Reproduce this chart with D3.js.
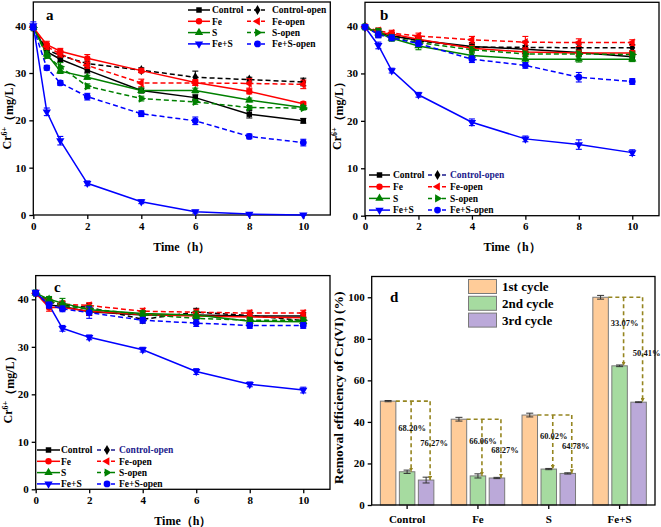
<!DOCTYPE html>
<html><head><meta charset="utf-8">
<script src="https://cdn.jsdelivr.net/npm/d3@7"></script>
<style>
body{margin:0;background:#fff}
text{font-family:"Liberation Serif","Times New Roman",serif;font-weight:bold}
</style>
</head><body>
<svg id="chart" width="661" height="527"></svg>
<script>
// ---------------- DATA ----------------
const times = [0, 0.5, 1, 2, 4, 6, 8, 10];
const seriesNames = ["Control", "Control-open", "Fe", "Fe-open", "S", "S-open", "Fe+S", "Fe+S-open"];
const xTicks = [0, 2, 4, 6, 8, 10];
const yTicksLine = [0, 10, 20, 30, 40];

// panel a
const aControl      = [39.6, 34.5, 32.9, 30.6, 26.3, 24.8, 21.3, 19.9];
const aControlOpen  = [39.6, 34.9, 33.7, 32.0, 30.6, 29.1, 28.6, 28.1];
const aFe           = [39.6, 36.0, 34.6, 33.1, 30.5, 28.0, 26.1, 23.5];
const aFeOpen       = [39.6, 35.6, 34.0, 31.6, 27.9, 27.9, 27.8, 27.6];
const aS            = [39.6, 34.0, 30.4, 29.1, 26.3, 26.3, 24.3, 22.7];
const aSOpen        = [39.6, 33.6, 31.3, 27.2, 24.6, 23.9, 22.7, 22.6];
const aFeS          = [40.0, 21.8, 15.7, 6.7, 2.8, 0.7, 0.2, 0.0];
const aFeSOpen      = [39.6, 31.1, 27.9, 25.0, 21.4, 19.9, 16.6, 15.3];
const aErr = [
  [0.3, 0.6, 0.6, 0.6, 0.5, 0.6, 0.8, 0.5],
  [0.3, 0.5, 0.5, 0.5, 0.5, 1.3, 0.5, 0.8],
  [0.3, 0.7, 0.6, 0.8, 0.4, 0.6, 0.5, 0.4],
  [0.3, 0.6, 0.6, 0.6, 0.8, 0.5, 1.0, 0.9],
  [0.3, 0.6, 0.5, 0.4, 0.5, 0.5, 0.4, 0.4],
  [0.3, 0.5, 0.9, 0.5, 0.5, 0.5, 0.4, 0.4],
  [0.8, 0.8, 0.9, 0.5, 0.4, 0.3, 0.2, 0.1],
  [0.5, 0.5, 0.5, 0.7, 0.6, 0.8, 0.5, 0.7]
];

// panel b
const bControl      = [39.8, 38.4, 37.9, 37.0, 35.7, 35.1, 34.4, 33.5];
const bControlOpen  = [39.8, 38.6, 38.0, 36.9, 35.5, 35.5, 35.4, 35.4];
const bFe           = [39.8, 38.6, 38.3, 37.2, 35.3, 34.5, 34.3, 34.3];
const bFeOpen       = [39.8, 39.0, 38.5, 37.9, 37.1, 36.6, 36.5, 36.5];
const bS            = [39.8, 38.5, 37.4, 35.8, 33.8, 33.0, 33.0, 33.0];
const bSOpen        = [39.8, 38.8, 37.6, 36.5, 35.0, 34.1, 34.1, 34.0];
const bFeS          = [39.8, 35.9, 30.6, 25.5, 19.7, 16.2, 15.0, 13.3];
const bFeSOpen      = [39.8, 38.2, 37.5, 36.3, 33.0, 31.7, 29.2, 28.3];
const bErr = [
  [0.3, 0.8, 0.6, 0.6, 0.8, 0.8, 0.6, 0.6],
  [0.3, 0.8, 0.6, 0.6, 0.7, 1.3, 0.8, 0.7],
  [0.3, 0.6, 0.6, 0.6, 0.6, 0.7, 0.6, 0.5],
  [0.3, 0.6, 0.6, 0.6, 0.7, 1.2, 0.8, 0.6],
  [0.3, 0.8, 0.6, 0.8, 0.7, 0.6, 0.6, 0.5],
  [0.3, 0.7, 0.6, 0.6, 0.7, 0.6, 0.6, 0.5],
  [0.3, 0.7, 0.5, 0.5, 0.7, 0.6, 1.0, 0.6],
  [0.3, 0.7, 0.6, 0.6, 0.7, 0.6, 1.0, 0.6]
];

// panel c
const cControl      = [41.3, 38.8, 38.5, 37.4, 36.7, 36.7, 36.5, 36.5];
const cControlOpen  = [41.3, 39.5, 38.8, 38.3, 35.8, 37.3, 36.6, 35.5];
const cFe           = [41.3, 38.3, 38.3, 37.5, 36.8, 36.5, 36.3, 36.1];
const cFeOpen       = [41.3, 39.6, 39.0, 38.7, 37.5, 37.3, 37.1, 37.1];
const cS            = [41.3, 40.0, 39.2, 37.8, 37.0, 36.7, 35.4, 35.3];
const cSOpen        = [41.3, 39.8, 38.6, 38.0, 36.8, 36.0, 35.6, 35.6];
const cFeS          = [41.5, 38.8, 33.9, 32.0, 29.4, 24.8, 22.1, 20.9];
const cFeSOpen      = [41.3, 38.8, 38.0, 37.2, 35.6, 35.0, 34.5, 34.5];
const cErr = [
  [0.3, 0.7, 0.8, 0.8, 0.8, 0.8, 0.7, 0.7],
  [0.3, 0.7, 0.8, 0.8, 0.8, 0.8, 0.7, 0.7],
  [0.3, 0.8, 0.6, 0.8, 0.8, 0.7, 0.7, 0.8],
  [0.3, 0.6, 0.6, 0.6, 0.6, 0.6, 0.6, 0.6],
  [0.3, 0.6, 1.0, 0.8, 0.6, 0.8, 0.6, 0.6],
  [0.3, 0.6, 0.6, 0.6, 0.6, 0.6, 0.6, 0.6],
  [0.3, 0.6, 0.6, 0.5, 0.5, 0.6, 0.5, 0.6],
  [0.3, 0.6, 0.6, 1.2, 0.6, 0.7, 0.6, 0.6]
];

// panel d
const barCategories = ["Control", "Fe", "S", "Fe+S"];
const cycleNames = ["1st cycle", "2nd cycle", "3rd cycle"];
const cycle1 = [50.0, 41.3, 43.3, 100.0];
const cycle2 = [16.0, 14.0, 17.3, 67.0];
const cycle3 = [12.0, 13.0, 15.2, 49.5];
const cycle1Err = [0.3, 0.9, 0.9, 0.9];
const cycle2Err = [0.8, 1.0, 0.3, 0.4];
const cycle3Err = [1.4, 0.3, 0.3, 0.2];
const drop2Labels = ["68.20%", "66.06%", "60.02%", "33.07%"];
const drop3Labels = ["76.27%", "68.27%", "64.78%", "50.41%"];
const yTicksBar = [0, 20, 40, 60, 80, 100];

// ---------------- STYLES ----------------
const seriesColors = ["#000000", "#000000", "#ff0000", "#ff0000", "#008000", "#008000", "#0000ff", "#0000ff"];
const seriesDashed = [false, true, false, true, false, true, false, true];
const seriesSymbols = [
  {t: d3.symbolSquare, r: 0, s: 30}, {t: d3.symbolDiamond, r: 0, s: 30},
  {t: d3.symbolCircle, r: 0, s: 32}, {t: d3.symbolTriangle, r: -90, s: 30},
  {t: d3.symbolTriangle, r: 0, s: 30}, {t: d3.symbolTriangle, r: 90, s: 30},
  {t: d3.symbolTriangle, r: 180, s: 30}, {t: d3.symbolCircle, r: 0, s: 36}
];
const cycleColors = ["#ffcc99", "#a6dba0", "#bba9d9"];
const olive = "#958520";

const svg = d3.select("#chart");
const FS = "'Liberation Serif', 'Times New Roman', serif";

function styleAxis(a) {
  a.select(".domain").remove();
  a.selectAll("line").attr("stroke", "#000").attr("stroke-width", 1.3);
  a.selectAll("text").attr("fill", "#000").style("font-family", FS).style("font-weight", "bold").style("font-size", "11px");
}
function frame(g, xr, yr) {
  g.append("rect").attr("x", xr[0]).attr("y", yr[1]).attr("width", xr[1] - xr[0]).attr("height", yr[0] - yr[1])
    .attr("fill", "none").attr("stroke", "#000").attr("stroke-width", 1.3);
}

function drawSym(g, i, cx, cy) {
  const s = seriesSymbols[i];
  g.append("path").attr("d", d3.symbol().type(s.t).size(s.s)())
    .attr("transform", `translate(${cx},${cy}) rotate(${s.r})`)
    .attr("fill", seriesColors[i]);
}

function linePanel(opt) {
  const g = svg.append("g");
  const x = d3.scaleLinear().domain([0, 11]).range(opt.xr);
  const y = d3.scaleLinear().domain([0, 45]).range(opt.yr);
  styleAxis(g.append("g").attr("transform", `translate(0,${opt.yr[0]})`)
    .call(d3.axisBottom(x).tickValues(xTicks).tickSize(4).tickPadding(3).tickFormat(d3.format("d"))));
  styleAxis(g.append("g").attr("transform", `translate(${opt.xr[0]},0)`)
    .call(d3.axisLeft(y).tickValues(yTicksLine).tickSize(4).tickPadding(3).tickFormat(d3.format("d"))));
  frame(g, opt.xr, opt.yr);
  const line = d3.line().x((d, k) => x(times[k])).y(d => y(d));
  opt.series.forEach((vals, i) => {
    g.append("path").datum(vals).attr("d", line).attr("fill", "none")
      .attr("stroke", seriesColors[i]).attr("stroke-width", 1.5)
      .attr("stroke-dasharray", seriesDashed[i] ? "5,3" : null);
  });
  opt.series.forEach((vals, i) => {
    vals.forEach((v, k) => {
      const e = opt.err[i][k], cx = x(times[k]);
      const eg = g.append("g").attr("stroke", seriesColors[i]).attr("stroke-width", 1.1);
      eg.append("line").attr("x1", cx).attr("x2", cx).attr("y1", y(v - e)).attr("y2", y(v + e));
      eg.append("line").attr("x1", cx - 3).attr("x2", cx + 3).attr("y1", y(v - e)).attr("y2", y(v - e));
      eg.append("line").attr("x1", cx - 3).attr("x2", cx + 3).attr("y1", y(v + e)).attr("y2", y(v + e));
      drawSym(g, i, cx, y(v));
    });
  });
  // legend
  const L = opt.legend;
  seriesNames.forEach((name, i) => {
    const col = i % 2, row = Math.floor(i / 2);
    const x0 = L.lx[col], x1 = L.lx2[col], yy = L.y0 + row * L.dy;
    const navy = (col === 1 && row === 0 && opt.navy);
    g.append("line").attr("x1", x0).attr("x2", x1).attr("y1", yy).attr("y2", yy)
      .attr("stroke", navy ? "#1a1a8c" : seriesColors[i]).attr("stroke-width", 1.5)
      .attr("stroke-dasharray", seriesDashed[i] ? "4,3" : null);
    drawSym(g, i, (x0 + x1) / 2, yy);
    g.append("text").attr("x", L.tx[col]).attr("y", yy).attr("dy", "0.35em")
      .attr("fill", navy ? "#1a1a8c" : "#000")
      .style("font-size", "9.5px").text(name);
  });
  g.append("text").attr("x", opt.letter[0]).attr("y", opt.letter[1]).style("font-size", "15px").text(opt.name);
  const midX = (opt.xr[0] + opt.xr[1]) / 2;
  g.append("text").attr("x", midX).attr("y", opt.xTitleY).attr("text-anchor", "middle")
    .style("font-size", "12px").text("Time（h）");
  const midY = (opt.yr[0] + opt.yr[1]) / 2 + 4;
  const t = g.append("text").attr("transform", `translate(${opt.yTitleX},${midY}) rotate(-90)`)
    .attr("text-anchor", "middle").style("font-size", "12px");
  t.append("tspan").text("Cr");
  t.append("tspan").attr("dy", "-0.45em").style("font-size", "8px").text("6+");
  t.append("tspan").attr("dy", "0.45em").text("（mg/L）");
}

linePanel({
  name: "a", xr: [33.3, 330.3], yr: [215, 2], xTitleY: 251, yTitleX: 11, letter: [46, 20],
  series: [aControl, aControlOpen, aFe, aFeOpen, aS, aSOpen, aFeS, aFeSOpen], err: aErr,
  legend: {lx: [188, 247], lx2: [210, 268], tx: [212, 272], y0: 10, dy: 11.3}
});
linePanel({
  name: "b", xr: [365, 659], yr: [215.7, 2.3], xTitleY: 251, yTitleX: 341, letter: [380, 20], navy: true,
  series: [bControl, bControlOpen, bFe, bFeOpen, bS, bSOpen, bFeS, bFeSOpen], err: bErr,
  legend: {lx: [369, 428], lx2: [390, 447], tx: [393, 450], y0: 175, dy: 11.7}
});
linePanel({
  name: "c", xr: [35.7, 330], yr: [489.3, 275.6], xTitleY: 525, yTitleX: 12, letter: [54, 292], navy: true,
  series: [cControl, cControlOpen, cFe, cFeOpen, cS, cSOpen, cFeS, cFeSOpen], err: cErr,
  legend: {lx: [37, 97], lx2: [60, 117], tx: [61, 119], y0: 450, dy: 11.3}
});

// ---------------- PANEL D ----------------
(function () {
  const g = svg.append("g");
  const xr = [371.7, 655], yr = [505, 276.5];
  const x = d3.scaleBand().domain(barCategories).range(xr).padding(0);
  const y = d3.scaleLinear().domain([0, 110]).range(yr);
  const sub = d3.scalePoint().domain(cycleNames).range([-19, 19]);
  const bw = 15.5;
  const defs = svg.append("defs");
  defs.append("marker").attr("id", "arr").attr("viewBox", "0 0 6 6").attr("refX", 6).attr("refY", 3)
    .attr("markerWidth", 2.6).attr("markerHeight", 2.6).attr("orient", "auto")
    .append("path").attr("d", "M0,0L6,3L0,6Z").attr("fill", olive);

  styleAxis(g.append("g").attr("transform", `translate(${xr[0]},0)`)
    .call(d3.axisLeft(y).tickValues(yTicksBar).tickSize(4).tickPadding(3).tickFormat(d3.format("d"))));
  const xa = g.append("g").attr("transform", `translate(0,${yr[0]})`)
    .call(d3.axisBottom(x).tickSize(4).tickPadding(6));
  styleAxis(xa);

  const cycles = [cycle1, cycle2, cycle3], errs = [cycle1Err, cycle2Err, cycle3Err];
  barCategories.forEach((c, ci) => {
    const cx = x(c) + x.bandwidth() / 2;
    cycleNames.forEach((cn, k) => {
      const v = cycles[k][ci], bx = cx + sub(cn);
      g.append("rect").attr("x", bx - bw / 2).attr("y", y(v)).attr("width", bw).attr("height", y(0) - y(v))
        .attr("fill", cycleColors[k]).attr("stroke", "#7a7a7a").attr("stroke-width", 1);
      const e = errs[k][ci];
      const eg = g.append("g").attr("stroke", "#333").attr("stroke-width", 1);
      eg.append("line").attr("x1", bx).attr("x2", bx).attr("y1", y(v - e)).attr("y2", y(v + e));
      eg.append("line").attr("x1", bx - 3.5).attr("x2", bx + 3.5).attr("y1", y(v - e)).attr("y2", y(v - e));
      eg.append("line").attr("x1", bx - 3.5).attr("x2", bx + 3.5).attr("y1", y(v + e)).attr("y2", y(v + e));
    });
    const v1 = cycle1[ci], v2 = cycle2[ci], v3 = cycle3[ci];
    const x2 = cx + sub("2nd cycle") + 4, x3 = cx + sub("3rd cycle") + 4;
    const x1 = cx + sub("1st cycle") + bw / 2;
    const dg = g.append("g").attr("stroke", olive).attr("stroke-width", 1.6).attr("stroke-dasharray", "4,3").attr("fill", "none");
    dg.append("line").attr("x1", x1).attr("x2", x3).attr("y1", y(v1)).attr("y2", y(v1));
    dg.append("line").attr("x1", x2).attr("x2", x2).attr("y1", y(v1)).attr("y2", y(v2)).attr("marker-end", "url(#arr)");
    dg.append("line").attr("x1", x3).attr("x2", x3).attr("y1", y(v1)).attr("y2", y(v3)).attr("marker-end", "url(#arr)");
    g.append("text").attr("x", x2 + 1).attr("y", y(v2 + 0.62 * (v1 - v2))).attr("dy", "0.35em").attr("text-anchor", "middle")
      .style("font-size", "8.5px").attr("fill", "#111").text(drop2Labels[ci]);
    g.append("text").attr("x", x3 + 4).attr("y", y(v3 + 0.47 * (v1 - v3))).attr("dy", "0.35em").attr("text-anchor", "middle")
      .style("font-size", "8.5px").attr("fill", "#111").text(drop3Labels[ci]);
  });
  frame(g, xr, yr);
  cycleNames.forEach((cn, k) => {
    const yy = 279.5 + k * 16.8;
    g.append("rect").attr("x", 468.5).attr("y", yy).attr("width", 28).attr("height", 14)
      .attr("fill", cycleColors[k]).attr("stroke", "#7a7a7a").attr("stroke-width", 1);
    g.append("text").attr("x", 502).attr("y", yy + 7).attr("dy", "0.35em").style("font-size", "13px").text(cn);
  });
  g.append("text").attr("x", 390).attr("y", 302).style("font-size", "15px").text("d");
  g.append("text").attr("transform", `translate(343,${(yr[0] + yr[1]) / 2 - 3}) rotate(-90)`)
    .attr("text-anchor", "middle").style("font-size", "13.5px").text("Removal efficiency of Cr(VI) (%)");
})();
</script>
</body></html>
